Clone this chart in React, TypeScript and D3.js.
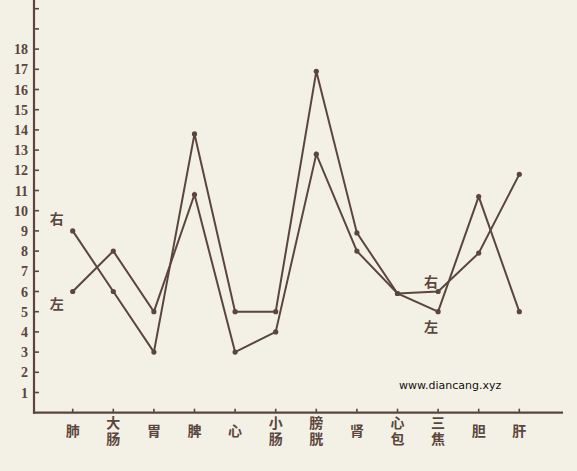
import React from "react";
import * as d3 from "d3";

const categories = ["肺", "大肠", "胃", "脾", "心", "小肠", "膀胱", "肾", "心包", "三焦", "胆", "肝"];
const rightValues = [9, 6, 3, 13.8, 5, 5, 16.9, 8.9, 5.9, 6, 7.9, 11.8];
const leftValues = [6, 8, 5, 10.8, 3, 4, 12.8, 8, 5.9, 5, 10.7, 5];
const tickValues = d3.range(1, 21);
const tickLabels = d3.range(1, 19);
const seriesLabels = [
  { text: "右", series: "right", at: 0, dx: -16, dy: -12 },
  { text: "左", series: "left", at: 0, dx: -16, dy: 12 },
  { text: "右", series: "right", at: 9, dx: -7, dy: -10 },
  { text: "左", series: "left", at: 9, dx: -7, dy: 15 },
];

const W = 577;
const H = 471;
const INK = "#5a463c";
const PAPER = "#f3f1e6";

export default function App() {
  const x = d3.scalePoint<string>().domain(categories).range([72.7, 519.3]);
  const y = d3.scaleLinear().domain([0, 20]).range([412.7, 8.7]);
  const x0 = 34;
  const line = d3
    .line<number>()
    .x((_, i) => x(categories[i]) as number)
    .y((d) => y(d));
  const series = { right: rightValues, left: leftValues };
  const cjk = "'Noto Sans CJK SC', 'Noto Sans', sans-serif";

  return (
    <svg
      width={W}
      height={H}
      style={{ position: "fixed", left: 0, top: 0, background: PAPER }}
    >
      <rect x={0} y={0} width={W} height={H} fill={PAPER} />
      {/* y axis */}
      <line x1={x0} y1={0} x2={x0} y2={y(0) + 1} stroke={INK} strokeWidth={2.2} />
      {tickValues.map((t) => (
        <line key={t} x1={x0} x2={x0 + 5} y1={y(t)} y2={y(t)} stroke={INK} strokeWidth={1.6} />
      ))}
      {tickLabels.map((t) => (
        <text
          key={t}
          x={28}
          y={y(t)}
          dy="0.36em"
          textAnchor="end"
          fontFamily="'Liberation Serif', 'DejaVu Serif', serif"
          fontWeight="bold"
          fontSize={14}
          fill={INK}
        >
          {t}
        </text>
      ))}
      {/* x axis */}
      <line x1={x0 - 1} y1={y(0)} x2={563} y2={y(0)} stroke={INK} strokeWidth={2.2} />
      {categories.map((c) => (
        <line
          key={c}
          x1={x(c) as number}
          x2={x(c) as number}
          y1={y(0)}
          y2={y(0) - 4}
          stroke={INK}
          strokeWidth={1.6}
        />
      ))}
      {categories.map((c) => {
        const chars = c.split("");
        const cx = x(c) as number;
        return (
          <text
            key={c}
            x={cx}
            y={chars.length === 1 ? 431 : 423}
            dy="0.36em"
            textAnchor="middle"
            fontFamily={cjk}
            fontWeight="bold"
            fontSize={14}
            fill={INK}
          >
            {chars.map((ch, k) => (
              <tspan key={k} x={cx} dy={k === 0 ? "0.36em" : 16}>
                {ch}
              </tspan>
            ))}
          </text>
        );
      })}
      {/* series */}
      {Object.entries(series).map(([k, vals]) => (
        <g key={k}>
          <path d={line(vals) as string} fill="none" stroke={INK} strokeWidth={2} strokeLinejoin="miter" />
          {vals.map((v, i) => (
            <circle key={i} cx={x(categories[i]) as number} cy={y(v)} r={2.6} fill={INK} />
          ))}
        </g>
      ))}
      {seriesLabels.map((l, i) => {
        const vals = (series as any)[l.series] as number[];
        return (
          <text
            key={i}
            x={(x(categories[l.at]) as number) + l.dx}
            y={y(vals[l.at]) + l.dy}
            dy="0.36em"
            textAnchor="middle"
            fontFamily={cjk}
            fontWeight="bold"
            fontSize={14}
            fill={INK}
          >
            {l.text}
          </text>
        );
      })}
      <text x={399} y={389} fontFamily="'DejaVu Sans', sans-serif" fontSize={11} fill="#111">
        www.diancang.xyz
      </text>
    </svg>
  );
}
